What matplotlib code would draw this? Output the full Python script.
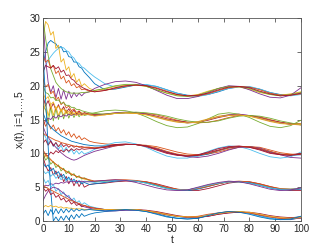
import matplotlib
matplotlib.use('Agg')
import matplotlib.pyplot as plt

# time samples (dense early so the zigzag shows)
t = [0, 1, 2, 3, 4, 5, 6, 7, 8, 9, 10, 11, 12, 13, 14, 15, 16, 18,
     20, 24, 28, 32, 36, 40, 44, 48, 52, 56, 60, 64, 68, 72, 76, 80, 84, 88, 92, 96, 100]

# MATLAB default colour order
blue = '#0072BD'
orange = '#D95319'
yellow = '#EDB120'
purple = '#7E2F8E'
green = '#77AC30'
lblue = '#4DBEEE'
red = '#A2142F'

# group near 20
a1 = [23.0, 25.0, 26.3, 26.7, 26.4, 26.2, 25.6, 25.8, 25.0, 25.1, 24.3, 24.2, 23.5, 23.5, 22.8, 22.6, 22.0, 21.2,
      20.3, 19.4, 19.5, 19.8, 20.1, 20.1, 19.9, 19.4, 18.9, 18.6, 18.5, 18.7, 19.1, 19.6, 19.8, 19.8, 19.5, 19.0, 18.7, 18.6, 18.8]
a2 = [22.0, 23.0, 23.8, 24.3, 24.8, 25.2, 25.5, 25.7, 25.6, 25.2, 25.0, 24.4, 24.1, 23.5, 23.3, 22.8, 22.6, 21.9,
      21.3, 20.3, 19.8, 19.9, 20.1, 20.2, 19.9, 19.4, 18.9, 18.5, 18.4, 18.7, 19.2, 19.6, 19.9, 19.9, 19.5, 19.0, 18.6, 18.5, 18.7]
a3 = [27.0, 29.5, 29.0, 27.5, 28.0, 25.5, 26.0, 23.5, 24.0, 22.3, 22.8, 21.2, 21.8, 20.5, 21.0, 19.9, 20.3, 19.6,
      19.3, 19.5, 19.9, 20.1, 20.1, 19.9, 19.4, 18.9, 18.6, 18.5, 18.7, 19.2, 19.6, 19.8, 19.8, 19.5, 19.0, 18.7, 18.6, 18.8, 19.1]
a4 = [30.0, 24.0, 20.5, 19.0, 20.0, 18.2, 19.6, 18.0, 19.4, 18.0, 19.2, 18.2, 19.0, 18.4, 18.9, 18.5, 18.9, 19.1,
      19.6, 20.2, 20.6, 20.7, 20.5, 20.0, 19.3, 18.6, 18.1, 18.1, 18.4, 19.0, 19.6, 20.0, 19.9, 19.4, 18.8, 18.3, 18.2, 18.6, 19.7]
a5 = [30.0, 27.0, 24.5, 22.5, 21.5, 20.5, 20.0, 19.6, 19.3, 19.1, 19.0, 18.9, 18.9, 18.9, 18.9, 19.0, 19.0, 19.1,
      19.3, 19.6, 20.0, 20.2, 20.2, 19.9, 19.4, 18.9, 18.5, 18.4, 18.6, 19.1, 19.6, 19.9, 19.9, 19.6, 19.1, 18.7, 18.5, 18.7, 19.0]
a6 = [24.5, 23.5, 23.8, 22.6, 23.0, 21.8, 22.2, 21.0, 21.4, 20.4, 20.8, 20.0, 20.3, 19.7, 19.9, 19.4, 19.5, 19.2,
      19.1, 19.3, 19.6, 19.9, 20.1, 20.0, 19.7, 19.2, 18.7, 18.5, 18.5, 18.8, 19.3, 19.7, 19.9, 19.8, 19.4, 18.9, 18.6, 18.6, 18.8]
a7 = [22.0, 23.0, 22.8, 22.6, 23.0, 22.5, 22.8, 22.0, 22.3, 21.5, 21.6, 21.0, 20.8, 20.3, 20.1, 19.8, 19.6, 19.3,
      19.1, 19.3, 19.7, 20.0, 20.1, 20.0, 19.6, 19.1, 18.7, 18.5, 18.6, 18.9, 19.4, 19.8, 19.9, 19.7, 19.2, 18.8, 18.5, 18.6, 18.9]

# group near 15
b1 = [17.0, 16.5, 14.6, 16.8, 14.8, 16.6, 15.0, 16.5, 15.1, 16.4, 15.2, 16.2, 15.3, 16.1, 15.4, 16.0, 15.6, 15.8,
      16.0, 16.3, 16.4, 16.3, 16.0, 15.4, 14.7, 14.1, 13.8, 13.9, 14.4, 15.1, 15.8, 16.0, 15.8, 15.3, 14.6, 14.0, 13.8, 14.1, 14.9]
b2 = [21.0, 19.8, 20.2, 18.8, 19.2, 17.9, 18.3, 17.2, 17.6, 16.7, 17.0, 16.3, 16.6, 16.0, 16.3, 15.8, 16.0, 15.8,
      15.7, 15.7, 15.9, 16.0, 16.0, 15.9, 15.7, 15.3, 14.9, 14.6, 14.5, 14.6, 14.9, 15.3, 15.6, 15.6, 15.4, 15.0, 14.6, 14.3, 14.2]
b3 = [18.5, 17.0, 17.8, 16.6, 17.4, 16.4, 17.2, 16.2, 16.9, 16.0, 16.6, 15.9, 16.4, 15.8, 16.2, 15.7, 16.0, 15.8,
      15.7, 15.8, 15.9, 16.0, 15.9, 15.8, 15.5, 15.1, 14.8, 14.6, 14.6, 14.9, 15.3, 15.6, 15.7, 15.6, 15.3, 14.9, 14.6, 14.4, 14.4]
b4 = [16.0, 17.5, 15.5, 17.2, 15.6, 16.9, 15.6, 16.6, 15.6, 16.4, 15.7, 16.2, 15.7, 16.1, 15.8, 16.0, 15.8, 15.8,
      15.6, 15.8, 16.0, 16.0, 15.9, 15.7, 15.3, 14.9, 14.6, 14.5, 14.7, 15.1, 15.5, 15.7, 15.7, 15.5, 15.1, 14.7, 14.4, 14.3, 14.4]
b5 = [14.0, 14.8, 15.2, 15.0, 15.5, 15.2, 15.6, 15.4, 15.7, 15.5, 15.8, 15.6, 15.8, 15.7, 15.8, 15.8, 15.8, 15.7,
      15.6, 15.8, 16.0, 16.1, 16.0, 15.8, 15.4, 15.0, 14.7, 14.5, 14.6, 15.0, 15.4, 15.7, 15.8, 15.6, 15.2, 14.8, 14.5, 14.3, 14.3]
b6 = [20.0, 19.0, 18.8, 18.2, 18.3, 17.8, 17.9, 17.4, 17.5, 17.1, 17.1, 16.8, 16.8, 16.5, 16.5, 16.3, 16.2, 16.0,
      15.9, 15.8, 15.9, 16.0, 16.1, 16.0, 15.8, 15.5, 15.1, 14.8, 14.6, 14.6, 14.8, 15.2, 15.5, 15.6, 15.5, 15.2, 14.8, 14.5, 14.2]
b7 = [19.0, 18.0, 18.4, 17.2, 17.6, 16.6, 17.0, 16.2, 16.6, 15.9, 16.2, 15.7, 16.0, 15.6, 15.9, 15.6, 15.8, 15.7,
      15.5, 15.7, 15.9, 16.0, 15.9, 15.7, 15.4, 15.0, 14.7, 14.5, 14.6, 15.0, 15.4, 15.6, 15.7, 15.5, 15.2, 14.8, 14.5, 14.3, 14.3]

# group near 10
c1 = [15.2, 14.0, 14.6, 13.6, 14.2, 13.3, 13.8, 13.0, 13.5, 12.7, 13.2, 12.4, 12.9, 12.2, 12.6, 12.0, 12.3, 11.8,
      11.6, 11.4, 11.3, 11.3, 11.3, 11.2, 11.0, 10.6, 10.2, 9.9, 9.8, 9.9, 10.2, 10.6, 10.9, 11.0, 10.9, 10.5, 10.1, 9.9, 9.8]
c2 = [16.0, 15.0, 14.4, 13.9, 13.5, 13.2, 12.9, 12.6, 12.4, 12.2, 12.0, 11.8, 11.7, 11.6, 11.5, 11.4, 11.3, 11.2,
      11.1, 11.1, 11.2, 11.3, 11.3, 11.1, 10.7, 10.2, 9.8, 9.6, 9.6, 9.9, 10.4, 10.8, 11.0, 11.0, 10.7, 10.2, 9.9, 9.7, 9.8]
c3 = [13.0, 12.4, 11.4, 12.0, 11.0, 11.6, 10.6, 11.2, 10.3, 10.9, 10.1, 10.6, 9.9, 10.4, 9.9, 10.3, 9.9, 10.2,
      10.6, 11.2, 11.6, 11.7, 11.4, 10.9, 10.2, 9.6, 9.3, 9.3, 9.7, 10.3, 10.8, 11.1, 11.0, 10.6, 10.0, 9.5, 9.3, 9.5, 10.2]
c4 = [14.0, 13.0, 12.4, 11.8, 11.3, 10.9, 10.5, 10.1, 9.8, 9.5, 9.3, 9.1, 9.0, 9.1, 9.3, 9.5, 9.7, 10.0,
      10.3, 10.7, 11.1, 11.3, 11.3, 11.1, 10.7, 10.2, 9.8, 9.5, 9.4, 9.6, 10.0, 10.5, 10.9, 11.0, 10.8, 10.3, 9.8, 9.4, 9.3]
c5 = [11.5, 12.0, 11.2, 11.8, 11.1, 11.6, 11.0, 11.5, 11.0, 11.3, 10.9, 11.2, 10.9, 11.1, 10.9, 11.0, 10.9, 10.9,
      10.8, 11.0, 11.3, 11.4, 11.3, 11.0, 10.5, 10.0, 9.7, 9.6, 9.8, 10.2, 10.7, 11.0, 11.1, 10.9, 10.5, 10.0, 9.8, 9.8, 10.0]
c6 = [13.0, 12.7, 12.5, 12.3, 12.1, 11.9, 11.8, 11.6, 11.5, 11.4, 11.3, 11.2, 11.1, 11.0, 11.0, 10.9, 10.9, 10.9,
      10.8, 10.9, 11.1, 11.3, 11.3, 11.1, 10.8, 10.3, 9.9, 9.7, 9.7, 10.0, 10.4, 10.8, 11.0, 11.0, 10.7, 10.3, 9.9, 9.8, 9.9]
c7 = [9.0, 9.8, 9.6, 10.2, 9.9, 10.4, 10.1, 10.5, 10.2, 10.6, 10.3, 10.7, 10.4, 10.7, 10.5, 10.7, 10.6, 10.7,
      10.7, 10.9, 11.2, 11.3, 11.3, 11.1, 10.6, 10.1, 9.8, 9.6, 9.7, 10.1, 10.5, 10.9, 11.0, 10.9, 10.6, 10.1, 9.8, 9.7, 9.9]

# group near 5
d1 = [10.0, 9.6, 9.3, 9.0, 8.7, 8.4, 8.1, 7.9, 7.6, 7.4, 7.2, 7.0, 6.8, 6.6, 6.5, 6.3, 6.2, 6.0,
      5.8, 5.9, 6.0, 6.0, 5.9, 5.7, 5.3, 4.9, 4.7, 4.6, 4.8, 5.2, 5.5, 5.8, 5.8, 5.7, 5.4, 5.0, 4.8, 4.7, 4.8]
d2 = [10.0, 9.0, 9.4, 8.4, 8.8, 7.9, 8.3, 7.4, 7.8, 7.0, 7.4, 6.7, 7.0, 6.4, 6.7, 6.2, 6.4, 6.0,
      5.8, 5.9, 6.0, 6.0, 5.9, 5.6, 5.2, 4.8, 4.6, 4.6, 4.9, 5.3, 5.6, 5.8, 5.8, 5.6, 5.3, 4.9, 4.7, 4.7, 4.8]
d3 = [9.5, 8.2, 7.4, 7.9, 6.8, 7.4, 6.3, 7.0, 5.8, 6.6, 5.5, 6.3, 5.2, 6.0, 5.1, 5.8, 5.0, 5.4,
      5.5, 5.6, 5.8, 5.9, 5.9, 5.8, 5.5, 5.1, 4.7, 4.5, 4.5, 4.8, 5.2, 5.6, 5.8, 5.8, 5.5, 5.1, 4.7, 4.5, 4.5]
d4 = [8.6, 8.0, 8.3, 7.4, 7.8, 6.9, 7.3, 6.5, 6.9, 6.1, 6.5, 5.8, 6.2, 5.6, 5.9, 5.5, 5.7, 5.4,
      5.5, 5.7, 5.9, 6.0, 5.9, 5.7, 5.3, 4.9, 4.6, 4.5, 4.7, 5.1, 5.5, 5.8, 5.8, 5.7, 5.3, 4.9, 4.6, 4.6, 4.7]
d5 = [10.5, 9.9, 9.5, 9.1, 8.7, 8.4, 8.1, 7.8, 7.6, 7.3, 7.1, 6.9, 6.8, 6.6, 6.5, 6.4, 6.3, 6.1,
      5.9, 6.0, 6.1, 6.1, 6.0, 5.8, 5.4, 5.0, 4.7, 4.6, 4.8, 5.1, 5.5, 5.8, 5.9, 5.8, 5.5, 5.1, 4.8, 4.7, 4.8]
d6 = [7.5, 7.0, 7.3, 6.6, 7.0, 6.3, 6.7, 6.1, 6.5, 5.9, 6.3, 5.8, 6.1, 5.7, 6.0, 5.7, 5.9, 5.8,
      5.7, 5.9, 6.0, 6.0, 5.9, 5.6, 5.2, 4.8, 4.6, 4.6, 4.9, 5.3, 5.6, 5.8, 5.8, 5.6, 5.3, 4.9, 4.7, 4.7, 4.8]
d7 = [5.0, 5.3, 5.2, 5.5, 5.4, 5.6, 5.5, 5.7, 5.6, 5.8, 5.7, 5.9, 5.8, 5.9, 5.8, 5.9, 5.8, 5.8,
      5.9, 6.0, 6.1, 6.0, 5.7, 5.3, 4.9, 4.6, 4.5, 4.6, 5.0, 5.4, 5.7, 5.9, 5.8, 5.5, 5.1, 4.7, 4.5, 4.6, 4.9]

# group near 1
e1 = [25.0, 18.0, 11.0, 4.5, 0.0, 0.6, 0.0, 0.7, 0.1, 0.8, 0.2, 0.9, 0.3, 1.0, 0.5, 1.1, 0.7, 1.0,
      1.2, 1.4, 1.5, 1.6, 1.6, 1.4, 1.1, 0.7, 0.4, 0.3, 0.4, 0.8, 1.1, 1.4, 1.4, 1.2, 0.8, 0.4, 0.2, 0.2, 0.5]
e2 = [6.5, 5.6, 6.0, 5.0, 5.4, 4.4, 4.8, 3.9, 4.3, 3.5, 3.8, 3.0, 3.4, 2.7, 3.0, 2.4, 2.7, 2.2,
      2.0, 1.7, 1.6, 1.7, 1.7, 1.5, 1.2, 0.9, 0.6, 0.5, 0.6, 0.9, 1.2, 1.4, 1.3, 1.1, 0.7, 0.4, 0.3, 0.4, 0.7]
e3 = [3.0, 3.8, 4.4, 4.8, 5.0, 4.9, 4.7, 4.4, 4.1, 3.8, 3.5, 3.2, 2.9, 2.7, 2.5, 2.3, 2.1, 1.9,
      1.7, 1.5, 1.5, 1.6, 1.6, 1.5, 1.3, 1.0, 0.7, 0.5, 0.5, 0.7, 1.0, 1.2, 1.3, 1.2, 0.9, 0.6, 0.4, 0.3, 0.4]
e4 = [5.0, 4.4, 4.7, 3.9, 4.2, 3.5, 3.8, 3.1, 3.4, 2.8, 3.1, 2.5, 2.8, 2.3, 2.5, 2.1, 2.3, 2.0,
      1.9, 1.7, 1.7, 1.7, 1.7, 1.6, 1.4, 1.1, 0.8, 0.6, 0.6, 0.7, 1.0, 1.2, 1.3, 1.3, 1.1, 0.8, 0.6, 0.5, 0.6]
e5 = [5.3, 5.0, 4.8, 4.6, 4.4, 4.2, 4.0, 3.8, 3.6, 3.4, 3.2, 3.0, 2.9, 2.7, 2.6, 2.4, 2.3, 2.1,
      1.9, 1.7, 1.7, 1.7, 1.7, 1.5, 1.2, 0.9, 0.7, 0.6, 0.7, 1.0, 1.2, 1.4, 1.4, 1.2, 0.9, 0.6, 0.4, 0.4, 0.5]
e6 = [2.0, 2.3, 2.1, 2.3, 2.1, 2.2, 2.0, 2.1, 1.9, 2.0, 1.9, 1.9, 1.8, 1.8, 1.8, 1.8, 1.7, 1.7,
      1.7, 1.7, 1.7, 1.7, 1.7, 1.5, 1.3, 1.0, 0.7, 0.6, 0.6, 0.8, 1.1, 1.3, 1.4, 1.3, 1.0, 0.7, 0.5, 0.4, 0.5]
e7 = [1.0, 1.6, 0.8, 1.7, 1.0, 1.8, 1.1, 1.8, 1.2, 1.8, 1.3, 1.8, 1.4, 1.8, 1.5, 1.7, 1.6, 1.7,
      1.6, 1.5, 1.6, 1.7, 1.6, 1.4, 1.0, 0.6, 0.4, 0.3, 0.4, 0.8, 1.2, 1.4, 1.3, 1.0, 0.6, 0.3, 0.2, 0.3, 0.7]

series = [
    (a1, blue), (a2, lblue), (a3, yellow), (a4, purple), (a5, green), (a6, orange), (a7, red),
    (b1, green), (b2, orange), (b3, red), (b4, yellow), (b5, purple), (b6, green), (b7, yellow),
    (c1, orange), (c2, blue), (c3, lblue), (c4, purple), (c5, red), (c6, orange), (c7, red),
    (d1, yellow), (d2, green), (d3, red), (d4, blue), (d5, orange), (d6, lblue), (d7, purple),
    (e1, blue), (e2, lblue), (e3, purple), (e4, red), (e5, orange), (e6, yellow), (e7, blue),
]

plt.rcParams['font.family'] = ['Liberation Sans', 'DejaVu Sans']
plt.rcParams['mathtext.fontset'] = 'custom'
plt.rcParams['mathtext.rm'] = 'Liberation Sans'
fig = plt.figure(figsize=(3.32, 2.49), dpi=100)
ax = fig.add_axes([0.1295, 0.1124, 0.777, 0.815])

for y, c in series:
    ax.plot(t, y, color=c, lw=0.6)

ax.set_xlim(0, 100)
ax.set_ylim(0, 30)
ax.set_xticks(range(0, 101, 10))
ax.set_yticks(range(0, 31, 5))
axcol = '#262626'
for s in ax.spines.values():
    s.set_color('#555555')
    s.set_linewidth(0.6)
ax.tick_params(direction='in', top=True, right=True, length=3, width=0.6,
               labelsize=7, colors='#555555', labelcolor=axcol, pad=2)
ax.set_xlabel('t', fontsize=7.5, color=axcol, labelpad=1)
ax.set_ylabel(r'$\mathregular{x_i(t)}$, i=1,...,5', fontsize=7.5, color=axcol, labelpad=2)

fig.savefig('out.png', dpi=100)
